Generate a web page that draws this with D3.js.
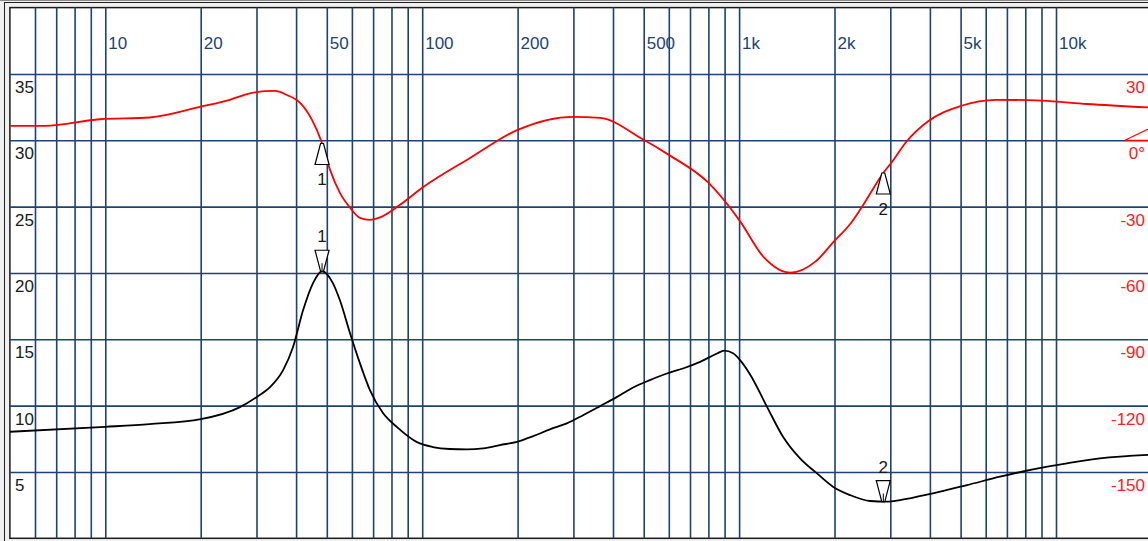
<!DOCTYPE html>
<html>
<head>
<meta charset="utf-8">
<script src="https://cdn.jsdelivr.net/npm/d3@7"></script>
<style>
  html, body { margin: 0; padding: 0; background: #fff; }
  svg { display: block; }
</style>
</head>
<body>
<div id="chart"></div>
<script>
// Impédance (noir, axe gauche) + phase (rouge, axe droit), fréquence log.

const magFreq = [5, 10, 13.8, 20, 26.6, 30, 33.1, 36.4, 39.1, 42.1, 45.2, 48.3, 52.3, 55, 59.2, 63.6, 68.4, 75.2, 83.3, 96.3,
  108, 122, 138, 156, 176, 199, 224, 253, 286, 322, 364, 412, 463, 523, 592, 665, 753, 852, 897, 957,
  1007, 1082, 1225, 1376, 1557, 1761, 1978, 2238, 2589, 2929, 3219, 4091, 5237, 6658, 8459, 10830, 13760, 20000]
const magDb = [8.03, 8.40, 8.61, 8.98, 9.89, 10.64, 11.39, 12.67, 14.40, 17.2, 19.22, 20.13, 19.22, 17.94, 15.46, 13.20, 11.17, 9.44, 8.38, 7.25,
  6.88, 6.73, 6.70, 6.78, 7.03, 7.27, 7.70, 8.21, 8.66, 9.28, 9.96, 10.66, 11.37, 11.92, 12.42, 12.80, 13.30, 13.93, 14.14, 13.95,
  13.43, 12.37, 9.91, 7.65, 6.02, 4.89, 3.89, 3.26, 2.81, 2.76, 2.88, 3.39, 4.01, 4.64, 5.20, 5.65, 6.02, 6.30]

const phFreq = [5, 6.45, 9.6, 13.8, 20, 24.7, 28.2, 31.9, 34.3, 37.4, 41.2, 44.9, 48.1, 51.2, 55, 59.2, 63.6, 68.4, 73.6, 85.1,
  100, 141.6, 200, 300, 364, 500, 600, 800, 1000, 1200, 1450, 1740, 2000, 2238, 2420, 2851, 3070, 3360, 3930, 5000,
  6500, 9000, 12500, 20000]
const phDeg = [6.5, 6.5, 9.5, 10.3, 15.2, 18.3, 21.0, 22.2, 22.3, 20.5, 16.9, 9.2, -0.6, -13.4, -23.8, -30.5, -35.1, -36.0, -34.9, -29.2,
  -21.5, -8.0, 4.7, 10.6, 10.1, 0.2, -6.6, -19.2, -36.0, -53.1, -59.9, -54.9, -45.5, -38.0, -31.0, -14.8, -8.9, -0.9, 8.4, 15.5,
  18.3, 17.9, 16.4, 14.8]

const gridFreqs = [6, 7, 8, 9, 10, 20, 30, 40, 50, 60, 70, 80, 90, 100, 200, 300, 400, 500, 600, 700, 800, 900,
  1000, 2000, 3000, 4000, 5000, 6000, 7000, 8000, 9000, 10000]
const freqLabels = [[10, "10"], [20, "20"], [50, "50"], [100, "100"], [200, "200"], [500, "500"],
  [1000, "1k"], [2000, "2k"], [5000, "5k"], [10000, "10k"]]
const magTicks = [5, 10, 15, 20, 25, 30, 35]
const phTicks = [30, 0, -30, -60, -90, -120, -150]
const markers = [[48.3, "1"], [2851, "2"]]

const W = 1148, H = 541
const pL = 9.9, pR = 1151.4, pT = 7.6, pB = 538.3

const svg = d3.select("#chart").append("svg")
  .attr("width", W).attr("height", H)
  .attr("font-family", "'Liberation Sans', Arial, sans-serif")

// cadre fenêtre
svg.append("rect").attr("x", 0).attr("y", 0).attr("width", W).attr("height", H).attr("fill", "#f0f0f0")
svg.append("line").attr("x1", 0).attr("x2", W).attr("y1", 0.5).attr("y2", 0.5).attr("stroke", "#8a8a8a")
svg.append("line").attr("x1", 4).attr("x2", W).attr("y1", 2.5).attr("y2", 2.5).attr("stroke", "#202020")
svg.append("line").attr("x1", 4.5).attr("x2", 4.5).attr("y1", 2.5).attr("y2", H).attr("stroke", "#202020")
svg.append("rect").attr("x", pL).attr("y", pT).attr("width", W - pL + 5).attr("height", pB - pT)
  .attr("fill", "#fff").attr("stroke", "#1a1a1a").attr("stroke-width", 1.5)

const x = d3.scaleLog().domain([5, 20000]).range([pL, pR])
const yMag = d3.scaleLinear().domain([0, 40]).range([pB, pT])
const yPh = d3.scaleLinear().domain([-180, 60]).range([pB, pT])

const gridColor = "#1e4272"

// grille verticale
svg.append("g")
  .attr("transform", `translate(0,${pT})`)
  .call(d3.axisBottom(x).tickValues(gridFreqs).tickSize(pB - pT).tickFormat(""))
  .call((s) => s.select(".domain").remove())
  .selectAll("line").attr("stroke", gridColor).attr("stroke-width", 1.6)

// grille horizontale
svg.append("g")
  .attr("transform", `translate(${pL},0)`)
  .call(d3.axisRight(yMag).tickValues(magTicks).tickSize(W - pL).tickFormat(""))
  .call((s) => s.select(".domain").remove())
  .selectAll("line").attr("stroke", gridColor).attr("stroke-width", 1.6)

// labels fréquence
svg.selectAll("text.f")
  .data(freqLabels)
  .join("text")
  .attr("class", "f")
  .attr("x", (d) => x(d[0]) + 3)
  .attr("y", 48.5)
  .attr("fill", "#23436f")
  .attr("font-size", 17)
  .text((d) => d[1])

// labels gauche (module)
svg.selectAll("text.m")
  .data(magTicks)
  .join("text")
  .attr("class", "m")
  .attr("x", 15)
  .attr("y", (d) => yMag(d) + 19)
  .attr("fill", "#1a1a1a")
  .attr("font-size", 17)
  .text((d) => d)

// labels droite (phase)
svg.selectAll("text.p")
  .data(phTicks)
  .join("text")
  .attr("class", "p")
  .attr("x", 1145)
  .attr("y", (d) => yPh(d) + 19)
  .attr("text-anchor", "end")
  .attr("fill", "#ff2020")
  .attr("font-size", 17)
  .text((d) => d === 0 ? "0°" : d)

// repère 0°
svg.append("path")
  .attr("d", `M1125,${yPh(0)}L1152,${yPh(0)}L1152,${yPh(0) - 13}Z`)
  .attr("fill", "none").attr("stroke", "#ff0000").attr("stroke-width", 1.2)

svg.append("clipPath").attr("id", "plot")
  .append("rect").attr("x", pL).attr("y", pT).attr("width", W - pL).attr("height", pB - pT)

const plot = svg.append("g").attr("clip-path", "url(#plot)")

const magData = magFreq.map((f, i) => [f, magDb[i]])
const phData = phFreq.map((f, i) => [f, phDeg[i]])

plot.append("path")
  .datum(phData)
  .attr("fill", "none").attr("stroke", "#ff0000").attr("stroke-width", 1.8)
  .attr("d", d3.line().x((d) => x(d[0])).y((d) => yPh(d[1])).curve(d3.curveMonotoneX))

plot.append("path")
  .datum(magData)
  .attr("fill", "none").attr("stroke", "#000").attr("stroke-width", 1.8)
  .attr("d", d3.line().x((d) => x(d[0])).y((d) => yMag(d[1])).curve(d3.curveMonotoneX))

// interpolation log-linéaire pour placer les marqueurs sur les courbes
function interp(freqs, vals, f) {
  const i = d3.bisectRight(freqs, f)
  if (i <= 0) return vals[0]
  if (i >= freqs.length) return vals[vals.length - 1]
  const t = (Math.log(f) - Math.log(freqs[i - 1])) / (Math.log(freqs[i]) - Math.log(freqs[i - 1]))
  return vals[i - 1] + t * (vals[i] - vals[i - 1])
}

const mk = svg.append("g").attr("font-size", 17).attr("fill", "#1a1a1a")
markers.forEach(([f, lab]) => {
  const mx = x(f)
  // phase : triangle pointe en haut, label dessous
  const py = yPh(interp(phFreq, phDeg, f))
  mk.append("path")
    .attr("d", `M${mx - 1.5},${py}L${mx + 1.5},${py}L${mx + 7},${py + 21}L${mx - 7},${py + 21}Z`)
    .attr("fill", "#fff").attr("stroke", "#000").attr("stroke-width", 1.2)
  mk.append("text").attr("x", mx).attr("y", py + 42).attr("text-anchor", "middle").text(lab)
  // module : triangle pointe en bas, label dessus
  const my = yMag(interp(magFreq, magDb, f))
  mk.append("path")
    .attr("d", `M${mx - 7},${my - 21}L${mx + 7},${my - 21}L${mx + 1.5},${my}L${mx - 1.5},${my}Z`)
    .attr("fill", "#fff").attr("stroke", "#000").attr("stroke-width", 1.2)
  mk.append("line").attr("x1", mx).attr("x2", mx).attr("y1", my - 8).attr("y2", my)
    .attr("stroke", "#000").attr("stroke-width", 1)
  mk.append("text").attr("x", mx).attr("y", my - 29).attr("text-anchor", "middle").text(lab)
})
</script>
</body>
</html>
